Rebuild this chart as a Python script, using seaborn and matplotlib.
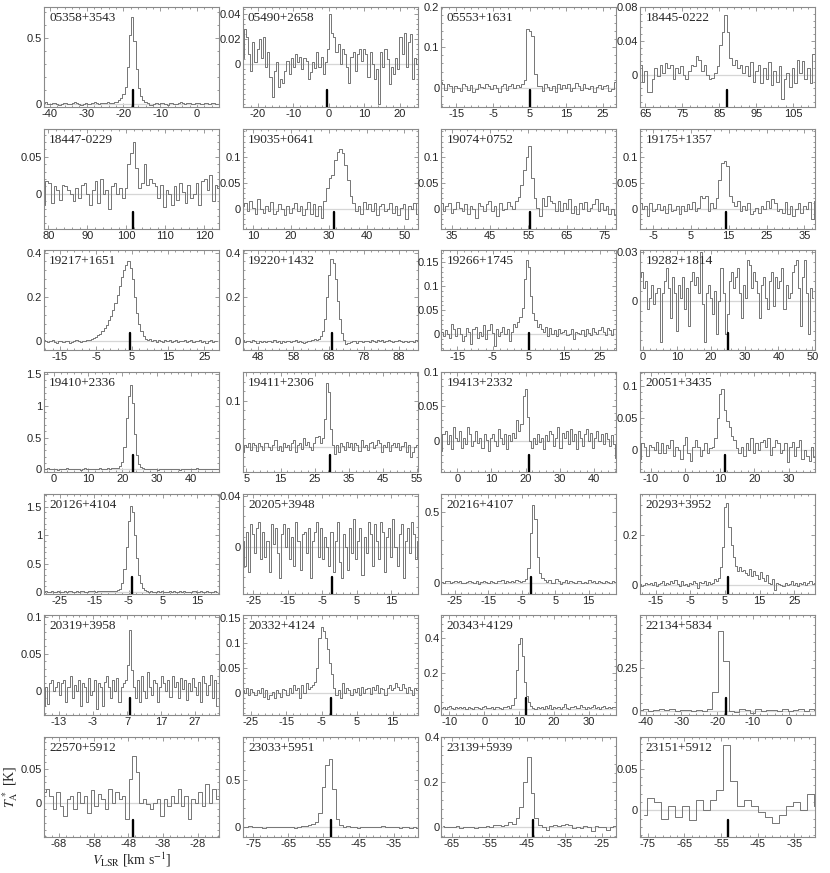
import numpy as np
import pandas as pd
import matplotlib
matplotlib.use("Agg")
import matplotlib.pyplot as plt
import seaborn as sns
from matplotlib.ticker import AutoMinorLocator, FuncFormatter

# sources, left-to-right, top-to-bottom
names = ["05358+3543", "05490+2658", "05553+1631", "18445-0222",
         "18447-0229", "19035+0641", "19074+0752", "19175+1357",
         "19217+1651", "19220+1432", "19266+1745", "19282+1814",
         "19410+2336", "19411+2306", "19413+2332", "20051+3435",
         "20126+4104", "20205+3948", "20216+4107", "20293+3952",
         "20319+3958", "20332+4124", "20343+4129", "22134+5834",
         "22570+5912", "23033+5951", "23139+5939", "23151+5912"]

# first channel velocity and channel width (km/s)
v_start = [-41.6, -24.2, -19.4, 63.6, 78.9, 7.2, 32.2, -8.4,
           -19.4, 43.6, -19.4, -0.8, -2.8, 3.9, -4.6, -13.0,
           -29.6, -28.1, -28.9, -19.5, -17.4, -27.2, -12.3, -41.6,
           -72.3, -78.0, -67.5, -76.2]
chan_width = [0.6, 0.6, 0.7, 0.7, 0.7, 0.7, 0.7, 0.7,
              0.6, 0.6, 0.6, 0.6, 0.6, 0.6, 0.6, 0.7,
              0.6, 0.6, 0.7, 0.6, 0.6, 0.6, 0.6, 1.5,
              1.0, 1.0, 1.0, 1.9]

# systemic velocity (black bar)
v_marker = [-17.4, -0.4, 5.0, 87.0, 101.8, 31.5, 55.3, 14.3,
            4.3, 69.0, 5.3, 25.1, 23.1, 29.5, 21.1, 11.4,
            -4.1, -2.1, -2.3, 5.8, 8.0, -2.3, 11.9, -17.5,
            -46.6, -52.8, -43.5, -53.1]

x_min = [-41.6, -24.2, -19.1, 63.6, 78.9, 7.2, 32.2, -8.4,
         -19.4, 43.6, -19.4, -0.8, -2.8, 3.9, -4.6, -13.0,
         -29.6, -28.1, -28.9, -19.5, -17.4, -27.2, -12.3, -41.5,
         -72.3, -78.0, -67.8, -77.1]
x_max = [5.9, 25.0, 28.6, 110.9, 123.7, 53.5, 78.0, 37.8,
         29.0, 93.2, 29.7, 50.8, 48.0, 55.1, 46.5, 37.5,
         21.2, 22.7, 23.2, 31.0, 34.0, 22.0, 37.9, 7.3,
         -21.9, -28.2, -21.2, -29.3]
x_tick0 = [-40, -20, -15, 65, 80, 10, 35, -5,
           -15, 48, -15, 0, 0, 5, 0, -10,
           -25, -25, -25, -15, -13, -25, -10, -40,
           -68, -75, -65, -75]

y_min = [-0.026, -0.034, -0.048, -0.038, -0.047, -0.039, -0.039, -0.039,
         -0.04, -0.04, -0.034, -0.030, -0.04, -0.053, -0.045, -0.035,
         -0.03, -0.037, -0.079, -0.034, -0.033, -0.045, -0.038, -0.024,
         -0.051, -0.10, -0.043, -0.032]
y_max = [0.736, 0.046, 0.2, 0.08, 0.088, 0.155, 0.155, 0.155,
         0.41, 0.41, 0.175, 0.031, 1.53, 0.161, 0.1, 0.122,
         1.73, 0.042, 0.63, 0.363, 0.102, 0.156, 0.53, 0.557,
         0.097, 0.95, 0.40, 0.088]
y_ticks = [[0, 0.5], [0, 0.02, 0.04], [0, 0.1, 0.2], [0, 0.04, 0.08],
           [0, 0.05], [0, 0.05, 0.1], [0, 0.05, 0.1], [0, 0.05, 0.1],
           [0, 0.2, 0.4], [0, 0.2, 0.4], [0, 0.05, 0.1, 0.15], [0, 0.03],
           [0, 0.5, 1, 1.5], [0, 0.1], [0, 0.05, 0.1], [0, 0.05, 0.1],
           [0, 0.5, 1, 1.5], [0, 0.04], [0, 0.5], [0, 0.2],
           [0, 0.05, 0.1], [0, 0.05, 0.1, 0.15], [0, 0.2, 0.4], [0, 0.25],
           [0, 0.05], [0, 0.5], [0, 0.2, 0.4], [0, 0.05]]

# antenna temperature per channel, mK
spec_05358 = [5, 10, 0, -5, 3, 8, -3, -8, -2, 4, 2, -6, -4, 6, 10, 2, -5, -8, 0, 4, -2, -6, 3, 12, 6, -2, 4, 8, 2, 10, 6,
              5, 10, 15, 25, 45, 70, 130, 280, 520, 660, 480, 260, 120, 55, 25, 10,
              4, -8, -10, -3, 2, -6, 4, 8, -2, -8, 3, 6, -4, -2, 5, 10, 2, -5, 4, 8, -3, -6, 2, 6, 0, -4, 6, 3, -5, 2, 8, -2, -4]
spec_05490 = [5, 28, 22, 8, -5, 18, 2, 12, 20, 5, 22, -2, 10, -10, -26, -5, 2, -18, -12, -15, -5, 3, -8, 5, -2, 8, 2, 6,
              -4, 5, 3, -12, -6, 2, -3, 10, -2, 6, -8, 2, 12, 40, 25, 22, 10, 16, 0, 12, 8, -2, -15, 6, 10, -5, 8, 12,
              3, 12, 8, -10, 10, 0, -12, -4, -32, 10, -2, 12, 4, -16, -2, -8, 5, -4, 22, 8, 25, -2, 18, 24, -12, 5, 0]
spec_05553 = [15, 8, -5, 10, 3, -10, 5, 0, -8, 8, 4, -6, 6, -10, -4, 8, 2, -2, 10, 5, -3, 6, 0, -12, 4, 8, -6, 3, 10, -2, 6, 2,
              8, 20, 145, 140, 128, 35, 5,
              5, -8, 10, 2, -6, 4, -10, 8, -4, 6, -2, 10, -8, -2, 12, 3, -6, 8, 0, -4, 5, -10, 2, 6, -3, 3, 6, -8, -4, 15, 10]
spec_18445 = [12, -8, 5, -20, -20, -5, 8, -2, 12, 2, 14, 8, 12, -5, 8, 2, 10, 0, -5, 5, 12, 10, 22, 18, 5, 12, 0, -5, -4, 2,
              10, 35, 50, 70, 50, 20, 12, 18, 8, 12, 2, 10, -2, 15, -8, 5, 12, -10, 8, -5, 15, -12, 5, -8, 10, -28, -5, 2,
              -15, 8, -10, 18, 2, 16, -5, 8, -10, 25, 10]
spec_18447 = [-15, 18, 15, -12, 10, 5, -8, 12, 10, 5, 0, -10, 8, -5, 12, 15, 0, -15, 5, 18, -12, 20, 0, 5, -20, 10, 15, 0, 8, -5,
              8, 40, 55, 70, 35, 8, 15, 40, 12, 20,
              15, 10, -5, 12, -18, 5, 0, -15, 10, -8, 15, 2, -12, 12, -5, 0, 15, -15, 18, 20, 5, 25, -10, 12, 8]
spec_19035 = [5, 10, -5, 15, 2, -10, 18, 0, -8, 5, -5, 12, -10, -5, 8, 0, -12, 5, -8, 2, 10, -5, 5, -12, 0, 12, -10, 8, -15, 5, -18,
              15, 40, 60, 65, 95, 110, 115, 108, 85, 55, 25, 10, -5,
              5, -10, 12, 0, 8, -5, 10, -12, 5, 8, -5, 0, 10, -8, 5, -12, 2, 8, -20, 5, 0, 10, -10]
spec_19074 = [10, -5, 5, 10, -8, 0, 12, 2, -5, 8, -10, 5, 0, -18, 10, 5, -5, 8, 15, -5, 5, -15, 10, -2, 0, 12, 5, 0,
              15, 22, 45, 75, 100, 122, 60, 20, 2, -15,
              20, 5, 25, 15, 10, -5, 15, -5, 10, 0, 18, -8, 5, -10, 10, 0, 12, -5, 2, 8, 18, -5, 10, -2, 5, -10, 0, -12, -5]
spec_19175 = [10, 0, 5, -15, 10, -5, 0, 8, -2, 5, -8, 8, -5, -2, 5, -10, 5, -5, 8, 0, 12, -5, 2, 25, 20, 25, -5, 10, 2,
              20, 55, 88, 92, 82, 25, 12,
              5, 15, -5, 5, -2, 10, -10, -5, 2, -8, 5, 0, 15, 2, 18, 10, -5, 0, -8, 12, -10, 5, -15, 0, 10, -8, 5, 0, 12, -20, 15]
spec_19217 = [5, 0, -3, 2, 5, -2, -5, 0, 3, -3, 2, 0, -5, -2, 3, 5, 2, -3, 0, 4,
              8, 8, 12, 15, 22, 28, 35, 45, 60, 75, 95, 115, 140, 175, 210, 250, 290, 320, 345, 362, 330, 280, 200,
              130, 80, 45, 25, 12, 5,
              10, 0, 5, -2, 8, 3, -4, 6, 0, 5, -3, 2, 8, -2, 4, 0, 6, -3, 2, 5, -4, 3, 0, 6, -2, 4, -5, 2, 5, -3, 0, 4]
spec_19220 = [5, -2, 3, 0, -3, 5, 0, -5, 2, -2, 4, -4, 0, 3, -2, 5, -3, 0, -5, 2, -2, 4, 0, -3, 3, 5, -4, 0, -2, -6, -3, 0, 2, 5, 12, 5,
              10, 25, 45, 100, 200, 300, 370, 355, 280, 180, 100, 40, 5, -12, -8,
              -3, 2, 0, -5, 3, 0, -2, 4, 2, -3, 5, 0, -4, 6, 3, 8, -2, 0, 5, 2, -3, 4, 0, 6, 2, -2, 4, -4, 0, 3, -2, 5, 0]
spec_19266 = [5, -5, 8, 0, -8, 20, 10, -5, 12, 0, -15, -5, 12, 5, -20, 10, 15, -8, 5, -5, 18, -10, 8, 20, 2, -25, 10, -5, 5, 15,
              0, 10, -15, 5, 20, 15, 25,
              35, 55, 115, 155, 140, 80, 45, 30, 15, 22, 10,
              5, 15, -5, 12, 0, 8, -5, 10, 2, 5, 8, -2, 0, 10, -10, 5, 2, 0, 8, -5, 10, 3, -3, 12, 5, 0, 8, 15, 5, -3, 12, 8, -2, 10]
spec_19282 = [15, 18, 8, 12, -5, 2, 10, -2, 5, 8, -25, 5, 12, 20, 8, -10, 15, 5, -18, 10, 2, 15, -5, 8, -15, 12, 18, 10, 15, 5,
              30, -2, -25, 5, 10, 2, -8, 6, -20, 0, 20, 5, -20, -8, 12, 18, 8, 15, 20, 5, -10, 10, 2, 25, 22, 8, 18, 12, 5,
              -10, 10, 15, 2, -5, 12, 18, -3, 15, 8, 12, 20, -5, 10, 2, 5, 18, 22, 25, 8, -15, 15, 25, 5, -20, 8, 2]
spec_19410 = [10, 5, 15, 8, 0, 12, 5, -5, 8, 2, 10, 15, 5, 0, 12, 8, 5, 10, -2, 8, 15, 5, 10, 0, 8, 12, 5, 15, 10, 2, 8, 18, 12, 20, 15, 25,
              30, 50, 120, 350, 800, 1150, 1320, 1050, 550, 220, 90, 40, 15,
              5, 10, 0, 8, 12, 5, -2, 8, 10, 3, 0, 5, 12, 8, 2, 10, 5, -3, 8, 12, 0, 5, 10, 2, 8, 15, 5, 0, 8, 12, 2, 10, 5, 8, 0, 12, 5]
spec_19411 = [-10, 5, 0, 10, -5, 8, 5, -8, 10, 2, -5, 8, 10, 0, -5, 5, 15, -5, 2, -8, 10, 0, 5, -5, 8, 15, -10, 5, 10, -3,
              20, 5, 12, 0, -5, 10, 22,
              25, 8, 20, 60, 138, 118, 40, 5, -15,
              5, -10, 10, 2, -5, 12, 0, 8, -5, 10, 5, -8, 15, 0, 5, -5, 10, 12, -2, 5, 15, 8, -10, 5, 0, 12, -8, 5, 10, 0,
              8, -5, 2, 12, -10, 5, -20, -10, 0, 5, 10]
spec_19413 = [-15, 10, 15, -5, 8, -12, 20, 5, 0, 15, -10, 5, -5, 20, 10, -8, 0, 15, -3, 5, -10, 10, 2, -15, 5, 10, 0, -8, 18, 5,
              -5, 10, -12, 8, 0, 12, 5,
              30, 15, 25, 65, 75, 35, 0, -10,
              5, -5, 10, -2, 5, -12, 8, 0, 15, 10, -8, 5, 20, -10, 12, 5, 15, -5, 18, 0, 10, -12, 15, 5, -8, 10, 18, 0, 12,
              -10, 5, 15, 0, 10, -5, 12, 3, -8, 8, -5, -25]
spec_20051 = [-15, 10, 5, -10, 8, 5, 0, 12, -5, 10, -5, 8, 2, 15, -10, 5, 0, -15, 8, 20, -5, -18, 5, 15, 5, -10, 0, 10, -5, 2,
              5, 18, 50, 88, 95, 62, 45, 35, 22, 15, 3,
              -5, 5, -10, 10, 0, 18, -5, 10, 0, 12, 15, 5, 18, -8, 5, 15, 10, -5, 0, 10, -20, 5, 12, -10, 5, 15, -15, 0,
              -10, -18, 5, -12]
spec_20126 = [5, 10, 0, 8, 12, 5, 2, 10, 8, 0, 12, 5, 10, 15, 8, 3, 12, 5, 15, 10, 0, 8, 12, 10, 15, 5, 20, 12, 10, 18,
              15, 20, 12, 25, 20, 25,
              35, 60, 150, 400, 800, 1250, 1520, 1400, 1000, 600, 300, 150, 70, 30, 12,
              5, 10, 0, 8, 12, 5, 10, 3, 8, 0, 12, 5, 10, 8, 2, 10, 5, 12, 0, 8, 5, 15, 10, 0, 5, 12, 8, 3, 10, 5, 0, 8, 12, 5]
spec_20205 = [5, -15, 12, -20, 18, 10, -5, 15, 20, -10, 12, -8, 5, -20, 18, 2, 15, -5, -25, 10, 18, 0, 15, -10, 8, -15, 20,
              5, -18, 10, 12, -5, 15, -25, 5, 12, 20, -8, 15, -10, 8, 0, -15, 12, -20, 5, 20, -12, -25, 10, 0, -18, 15,
              -5, 22, -10, 5, 15, -22, 8, -5, 20, 10, -15, 18, 5, -10, 20, 12, -20, 8, 15, -8, 22, 0, -15, 10, 18, -25,
              5, 15, -5, 20, 10, -10, 5]
spec_20216 = [5, 0, 10, 8, -3, 5, 10, 2, 8, 0, -5, 5, 12, 3, 0, 8, -8, 5, 10, 2, 0, 12, 5, -5, 10, 8, 15, 0, 10, 5,
              12, 3, 15, 8, 5,
              10, 25, 100, 350, 550, 450, 180, 70, 30, 15,
              5, 20, 0, -5, 25, 10, -8, 5, 15, 0, 10, 5, -5, 8, 12, 0, 5, -3, 15, 5, 8, 0, 10, 5, -2, 8, 5, 0, 10, 3, 5]
spec_20293 = [5, -5, 0, 10, 5, 8, 0, 12, -2, 5, 10, 15, 0, 8, 5, 18, 10, 20, 5, -5, 15, 0, 5, -3, 10, 5, 18, 10, -10, 12,
              8, 15, 2, 12, 5, 10, 25, 15,
              30, 70, 150, 310, 327, 230, 160, 110, 75, 55, 70, 55, 60, 48, 40, 62, 35, 55, 40, 25, 52, 30, 15, 40, 10,
              5, 25, -20, 10,
              5, 0, -5, 10, 2, 5, 15, 0, 8, -5, 10, 5, 12, 0, 8, 15, 5, 10, 20]
spec_20319 = [-20, 5, -18, 10, 15, 0, 5, 12, -5, 10, 15, -15, 5, 20, -10, 8, 0, 15, -20, 10, 5, -15, 18, -5, 0, 15, -25,
              10, 5, -20, 12, 20, 5, -10, 15, 0, 18, -15, 5, 10,
              15, 35, 82, 28, 5,
              -10, 15, -15, 20, 0, -10, 25, 5, -5, 15, 10, -15, 5, 20, 10, 0, 15, -8, 20, 5, 12, -10, 18, 2, 15, -12,
              10, 0, 18, 5, -5, 12, -15, 20, 10, -5, 8, 22, -10, 15, -20]
spec_20332 = [5, 0, 10, -5, 8, 2, -5, 5, 0, 10, -8, 5, -12, -5, 2, -10, 5, 0, -8, 8, 5, -5, 10, 0, 15, 5, 10, -10, 15, 0,
              20, 8, 12,
              15, 22, 50, 110, 132, 125, 110, 88, 60, 38, 10, -5,
              5, -10, 20, 0, 10, 5, -5, 8, 2, 10, -5, 12, 0, 8, 10, -3, 12, 5, 15, 0, 10, 8, -5, 10, 15, 5, 10, 20, 12,
              5, 18, 10, 0, 12, 5, -5, 10, 5]
spec_20343 = [5, 12, 0, 8, 15, 5, 0, 10, 5, 12, 3, 8, 0, 10, 5, -3, 8, 12, 5, 0, 10, 15, 2, 5, 10, 0, 8, 12, 5, 0,
              10, 8, 15, 5, 20,
              60, 220, 370, 400, 300, 150, 70, 35, 15,
              5, 0, 10, 3, 8, 0, 15, 5, 20, 0, 8, 5, 10, 0, 12, 25, 5, 0, 10, 8, 15, 2, 5, 20, 10, 0, 8, 5, 12, 20, 5,
              10, 0, 8, 15, 5, 10, 3, 8, 12, 5]
spec_22134 = [5, 10, 0, 8, 12, 5, 10, 0, 5, 8, 2, 6, 0, 10,
              110, 467, 290, 0,
              -5, 10, 5, -10, 12, 0, 8, 5, 2, 10, 0, 6, 12, 4, 15, 8]
spec_22570 = [15, 20, 10, -10, 15, -5, -20, 5, 10, -10, 15, 0, 10, -15, 18, -5, 12, 5, -10, 20, 0, 15, 5, 10,
              -25, 35, 69, 45, 0,
              5, -2, -10, 0, 5, -20, 5, -5, 10, 0, 20, -5, 10, -25, 5, 0, 15, -5, 28, 0, 20, 5, 10]
spec_23033 = [10, 0, 15, 5, 10, 0, -5, 5, 0, 5, 0, 10, 0, 5, 10, -2, 10, 20, 15, 30, 40,
              60, 150, 420, 660, 720, 400, 90, 30,
              10, 15, 5, 10, -5, 10, 0, 5, 10, 0, 5, 12, 0, 8, 5, 0, -5, 10, 5, -5, 0, -5]
spec_23139 = [5, 0, 3, 0, 5, -2, 0, 3, 0, -3, 0, 2, 5, 3, 8, 10, 5, 10, 25,
              15, 40, 90, 200, 310, 150, 40, 10,
              0, -10, 5, 10, 5, 12, 15, 10, -5, 0, -5, 5, 0, -15, 5, 0, 3, -10, 0, 5, -3]
spec_23151 = [-5, 15, 10, -10, 5, -8, 5, -12, 12, 0, 12,
              25, 79, 35, 5,
              12, 5, -2, -8, -15, -5, 5, 10, 0, 20, 5]

spectra = [spec_05358, spec_05490, spec_05553, spec_18445,
           spec_18447, spec_19035, spec_19074, spec_19175,
           spec_19217, spec_19220, spec_19266, spec_19282,
           spec_19410, spec_19411, spec_19413, spec_20051,
           spec_20126, spec_20205, spec_20216, spec_20293,
           spec_20319, spec_20332, spec_20343, spec_22134,
           spec_22570, spec_23033, spec_23139, spec_23151]

# long table: one row per channel
rows = []
for name, v0, dv, spec in zip(names, v_start, chan_width, spectra):
    for i, t in enumerate(spec):
        rows.append((name, v0 + dv * i, t / 1000.0))
df = pd.DataFrame(rows, columns=["source", "v", "ta"])

sns.set_theme(style="ticks")
plt.rcParams["font.family"] = ["Liberation Sans", "DejaVu Sans"]
plt.rcParams["mathtext.fontset"] = "stix"

fig = plt.figure(figsize=(8.3, 8.73), dpi=100)
gs = fig.add_gridspec(7, 4, left=44 / 830, right=815 / 830, top=1 - 7 / 873,
                      bottom=1 - 837 / 873, wspace=0.137, hspace=0.217)

edge = "#8a8a8a"
serif = ["Liberation Serif", "DejaVu Serif"]
for k, name in enumerate(names):
    ax = fig.add_subplot(gs[k // 4, k % 4])
    sub = df[df["source"] == name]
    ax.axhline(0, color="#d6d6d6", lw=0.9, zorder=1)
    sns.lineplot(data=sub, x="v", y="ta", ax=ax, drawstyle="steps-mid",
                 color="#757575", lw=0.7, estimator=None, legend=False, zorder=2)
    ax.axvline(v_marker[k], ymin=0, ymax=0.17, color="black", lw=1.7, zorder=3)

    ax.set_xlim(x_min[k], x_max[k])
    ax.set_ylim(y_min[k], y_max[k])
    ax.set_xticks(np.arange(x_tick0[k], x_max[k] + 0.01, 10))
    ax.set_yticks(y_ticks[k])
    ax.xaxis.set_major_formatter(FuncFormatter(lambda x, _: f"{x:g}"))
    ax.yaxis.set_major_formatter(FuncFormatter(lambda y, _: f"{y:g}"))
    ax.xaxis.set_minor_locator(AutoMinorLocator(5))
    ax.yaxis.set_minor_locator(AutoMinorLocator(5))
    ax.tick_params(which="both", direction="in", top=True, right=True,
                   color=edge, width=0.6, labelsize=8, pad=1.5)
    ax.tick_params(which="major", length=3)
    ax.tick_params(which="minor", length=1.5)
    for s in ax.spines.values():
        s.set_color(edge)
        s.set_linewidth(0.8)

    ax.text(0.03, 0.95, name, transform=ax.transAxes, ha="left", va="top",
            fontsize=9.5, family=serif)

    if k == 24:
        ax.set_xlabel(r"$V_{\rm LSR}$ [km s$^{-1}$]", fontsize=10, family=serif, labelpad=1)
        ax.set_ylabel(r"$T_{\rm A}^{\,*}$ [K]", fontsize=10, family=serif)
        ax.yaxis.set_label_coords(-0.135, 0.5)
    else:
        ax.set_xlabel("")
        ax.set_ylabel("")

plt.savefig("out.png", dpi=100)
